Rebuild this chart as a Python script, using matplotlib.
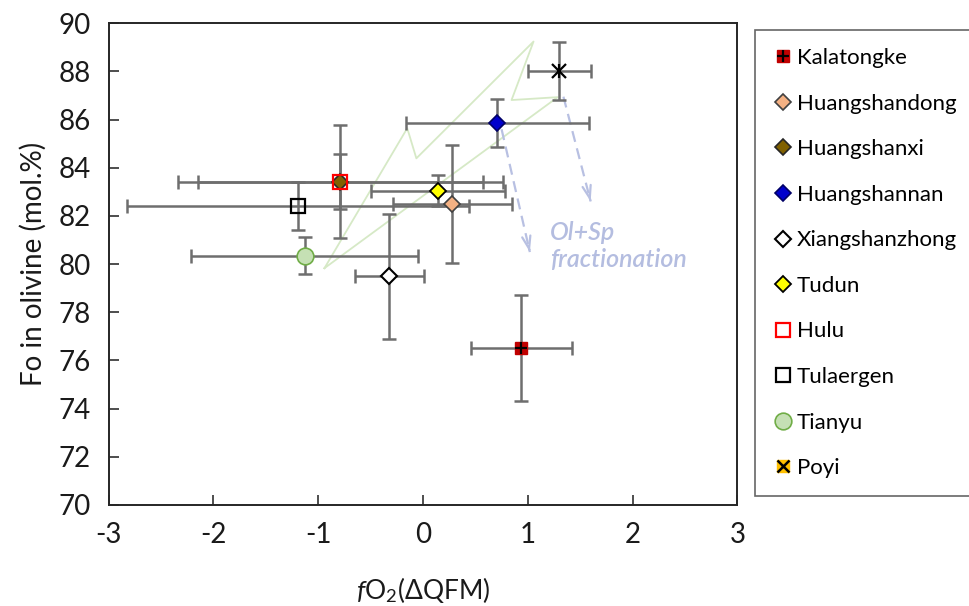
import matplotlib
matplotlib.use("Agg")
import matplotlib.pyplot as plt
from matplotlib.lines import Line2D
from matplotlib.legend_handler import HandlerTuple

plt.rcParams['font.family'] = ['Lato', 'DejaVu Sans']
plt.rcParams['mathtext.fontset'] = 'custom'
plt.rcParams['mathtext.rm'] = 'Lato'
plt.rcParams['mathtext.it'] = 'Lato:italic'

# ---------------- data ----------------
sites = ["Kalatongke", "Huangshandong", "Huangshanxi", "Huangshannan",
         "Xiangshanzhong", "Tudun", "Hulu", "Tulaergen", "Tianyu", "Poyi"]
fo2 = [0.94, 0.28, -0.79, 0.71, -0.32, 0.14, -0.79, -1.19, -1.13, 1.30]
fo = [76.5, 82.5, 83.42, 85.85, 79.5, 83.05, 83.42, 82.4, 80.35, 88.0]
fo2_err = [0.48, 0.57, 1.36, 0.87, 0.33, 0.64, 1.55, 1.63, 1.08, 0.30]
fo_err = [2.2, 2.45, 1.15, 1.0, 2.6, 0.65, 2.35, 1.0, 0.76, 1.2]

# green field outline
poly_x = [-0.94, -0.15, -0.063, 1.055, 0.845, 1.285, -0.94]
poly_y = [79.83, 85.64, 84.39, 89.24, 86.81, 86.93, 79.83]

# fractionation arrows (start -> end)
arrow_x0 = [0.75, 1.34]
arrow_y0 = [85.6, 86.95]
arrow_x1 = [1.02, 1.60]
arrow_y1 = [80.5, 82.6]

x_ticks = [-3, -2, -1, 0, 1, 2, 3]
y_ticks = [70, 72, 74, 76, 78, 80, 82, 84, 86, 88, 90]

# ---------------- styles ----------------
styles = {
    "Kalatongke":     dict(marker='s', ms=9, mfc='#c00000', mec='#c00000', mew=1),
    "Huangshandong":  dict(marker='D', ms=8.5, mfc='#f4b183', mec='#404040', mew=1.2),
    "Huangshanxi":    dict(marker='D', ms=8.5, mfc='#7f6000', mec='#262626', mew=1.2),
    "Huangshannan":   dict(marker='D', ms=8.5, mfc='#0000cc', mec='#000066', mew=1.2),
    "Xiangshanzhong": dict(marker='D', ms=8.5, mfc='white', mec='#000000', mew=1.5),
    "Tudun":          dict(marker='D', ms=8.5, mfc='#ffff00', mec='#000000', mew=1.3),
    "Hulu":           dict(marker='s', ms=10, mfc='none', mec='#ff0000', mew=1.6),
    "Tulaergen":      dict(marker='s', ms=10, mfc='none', mec='#000000', mew=1.6),
    "Tianyu":         dict(marker='o', ms=12, mfc='#c5e0b4', mec='#70ad47', mew=1.2),
    "Poyi":           dict(marker='x', ms=10, mfc='none', mec='#000000', mew=1.6),
}

fig = plt.figure(figsize=(9.69, 6.06), dpi=100)
ax = fig.add_axes([0.112, 0.1667, 0.649, 0.795])

ax.set_xlim(-3, 3)
ax.set_ylim(70, 90)

# green field
ax.plot(poly_x, poly_y, color='#d6e9c6', lw=1.3, zorder=1)

# arrows
arrow_col = '#b8c0e2'
for x0, y0, x1, y1 in zip(arrow_x0, arrow_y0, arrow_x1, arrow_y1):
    ax.plot([x0, x1], [y0, y1], color=arrow_col, lw=1.6, ls=(0, (5, 3)), zorder=1)
    dx, dy = x1 - x0, y1 - y0
    ax.annotate('', xy=(x1, y1), xytext=(x1 - 0.04 * dx, y1 - 0.04 * dy),
                arrowprops=dict(arrowstyle='->,head_length=0.9,head_width=0.3',
                                color=arrow_col, lw=1.6), zorder=1)

ax.text(1.21, 81.8, "Ol+Sp\nfractionation", color='#b4bde0', fontsize=18,
        style='italic', fontweight='semibold', ha='left', va='top',
        linespacing=1.2, zorder=1)

# error bars
for i, s in enumerate(sites):
    ax.errorbar(fo2[i], fo[i], xerr=fo2_err[i], yerr=fo_err[i], fmt='none',
                ecolor='#6e6e6e', elinewidth=1.8, capsize=5, capthick=1.8, zorder=2)

# markers
handles = []
for i, s in enumerate(sites):
    st = styles[s]
    ax.plot(fo2[i], fo[i], ls='none', zorder=4, **st)
    if s == "Kalatongke":
        ax.plot(fo2[i], fo[i], ls='none', marker='+', ms=9, mec='black', mew=1.6, zorder=5)
        h = (Line2D([], [], ls='none', **st),
             Line2D([], [], ls='none', marker='+', ms=8, mec='black', mew=1.6))
    elif s == "Poyi":
        ax.plot(fo2[i], fo[i], ls='none', marker='|', ms=10, mec='black', mew=1.6, zorder=5)
        h = (Line2D([], [], ls='none', marker='s', ms=8, mfc='#ffc000', mec='#ffc000'),
             Line2D([], [], ls='none', marker='x', ms=8, mec='black', mew=1.8))
    else:
        h = Line2D([], [], ls='none', **st)
    handles.append(h)

ax.set_xticks(x_ticks)
ax.set_xticklabels([str(v) for v in x_ticks])
ax.set_yticks(y_ticks)
ax.set_yticklabels([str(v) for v in y_ticks])
ax.tick_params(direction='in', length=7, width=1.3, labelsize=20,
               color='#404040', labelcolor='#1a1a1a')
ax.tick_params(axis='y', pad=13)
ax.tick_params(axis='x', pad=12)
for sp in ax.spines.values():
    sp.set_linewidth(1.4)
    sp.set_color('#262626')

ax.set_ylabel("Fo in olivine (mol.%)", fontsize=20, color='#1a1a1a', labelpad=8)
ax.set_xlabel(r"$\mathit{f}$O$_2$(ΔQFM)", fontsize=19, color='#1a1a1a', labelpad=20)

leg = ax.legend(handles, sites, loc='upper left',
                bbox_to_anchor=(0.779, 0.950), bbox_transform=fig.transFigure,
                fontsize=16, frameon=True, fancybox=False, edgecolor='#404040',
                labelspacing=1.15, handletextpad=0.2, handlelength=0.9,
                borderpad=0.8, borderaxespad=0,
                handler_map={tuple: HandlerTuple(ndivide=1, pad=0)})
leg.get_frame().set_linewidth(1.2)

fig.savefig("out.png", dpi=100)
